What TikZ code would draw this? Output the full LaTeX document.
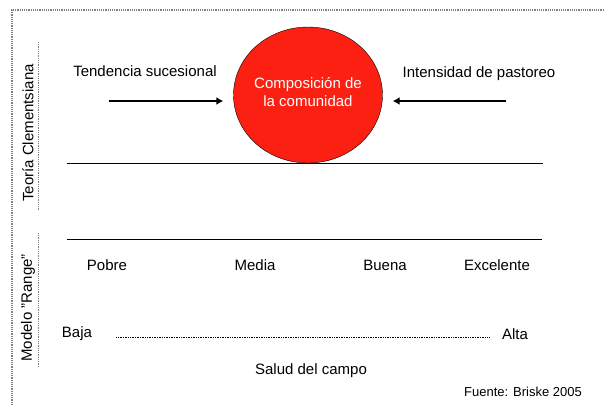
\documentclass[tikz,border=0pt]{standalone}
\usepackage{fontspec}
\setmainfont{Liberation Sans}
\usepackage{tikz}
\usetikzlibrary{shapes.geometric}
\usetikzlibrary{arrows.meta}
\definecolor{circred}{RGB}{252,32,18}

\begin{document}
\begin{tikzpicture}[x=1pt, y=-1pt, every text node part/.style={align=center},
    lbl/.style={font=\fontsize{15}{18}\selectfont, inner sep=0pt},
    side/.style={lbl, rotate=90},
    push/.style={line width=2.6pt, -{Latex[length=7pt, width=8pt]}}]
    \useasboundingbox (0, 0) rectangle (604, 405);
    % frame
    \draw[gray, densely dotted, line width=1.2pt] (12, 405) -- (12, 10) -- (604, 10);
    % side labels
    \node (teo) [side] at (28, 133) {Teoría Clementsiana};
    \node (mod) [side] at (28, 308) {Modelo "Range"};
    \draw[gray, densely dotted, line width=0.8pt] (38, 42) -- (38, 210);
    \draw[gray, densely dotted, line width=0.8pt] (38, 233) -- (38, 367);
    % upper part
    \node (comp) [ellipse, draw, fill=circred, minimum width=149pt, minimum height=136pt, inner sep=0pt] at (308, 95) {};
    \node (compt) [lbl, text=white] at (308, 92) {Composición de\\la comunidad};
    \node (tend) [lbl] at (145, 71) {Tendencia sucesional};
    \node (inte) [lbl] at (479, 74) {Intensidad de pastoreo};
    \coordinate (ta) at (109, 101);
    \coordinate (ia) at (506, 101);
    \draw[push, shorten >=10pt] (ta) -- (comp.west |- ta);
    \draw[push, shorten >=10pt] (ia) -- (comp.east |- ia);
    \draw[line width=0.8pt] (67, 163) -- (543, 163);
    \draw[line width=0.8pt] (67, 239) -- (542, 239);
    % lower part
    \node (pob) [lbl] at (107, 265) {Pobre};
    \node (med) [lbl] at (255, 265) {Media};
    \node (bue) [lbl] at (385, 265) {Buena};
    \node (exc) [lbl] at (497, 265) {Excelente};
    \node (baj) [lbl] at (77, 334) {Baja};
    \node (alt) [lbl] at (515, 334) {Alta};
    \draw[densely dotted, line width=0.7pt, shorten <=24pt, shorten >=12pt] ([yshift=-3pt]baj.east) -- ([yshift=-3pt]alt.west);
    \node (sal) [lbl] at (311, 371) {Salud del campo};
    \node (fue) [lbl, font=\fontsize{13}{15}\selectfont] at (523, 392) {Fuente: Briske 2005};
  \end{tikzpicture}
\end{document}
